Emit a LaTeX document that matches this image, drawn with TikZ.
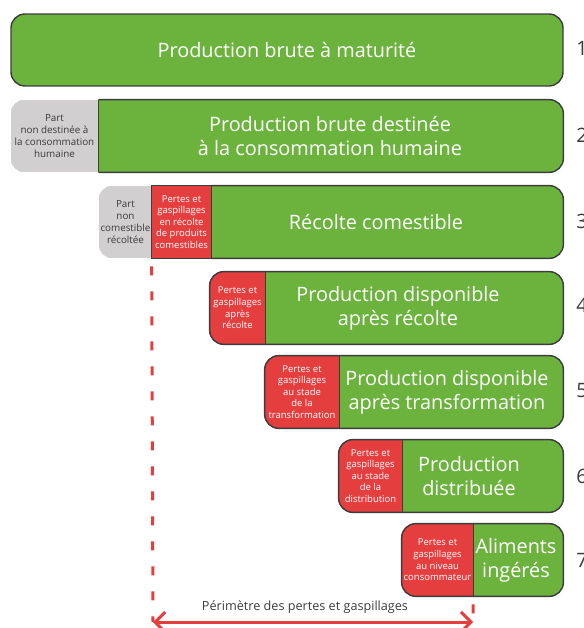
\documentclass[tikz,border=0pt]{standalone}
\usepackage{fontspec}
\setmainfont{Open Sans}
\usetikzlibrary{arrows.meta,backgrounds}
\definecolor{vert}{HTML}{6CB33E}
\definecolor{rouge}{HTML}{E53E3F}
\definecolor{gris}{HTML}{D1CFCF}
\definecolor{trait}{HTML}{3C3C3C}
\tikzset{
	seg/.style={inner sep=0pt, align=center, minimum height=1.44cm},
	grand/.style={seg, text=white, font={\fontsize{11.3}{13.6}\selectfont}},
	petit/.style={seg, text=white, font={\fontsize{5.4}{6.6}\selectfont}},
	partgris/.style={petit, text=trait, font={\fontsize{5.6}{6.8}\selectfont}},
	bord/.style={draw=trait, line width=0.8pt},
	tiret/.style={draw=rouge, line width=0.06cm, dash pattern=on 0.18cm off 0.32cm, dash phase=0.34cm},
	num/.style={anchor=west, inner sep=0pt, text=trait, font={\fontsize{11.3}{12}\selectfont}}
}
\begin{document}
\begin{tikzpicture}[x=0.02cm,y=-0.02cm]
	\useasboundingbox (0,0) rectangle (584,628);
	% 1
	\node[grand, minimum width=552*0.02cm, fill=vert, bord, rounded corners=0.28cm] (brute) at (287,50) {Production brute à maturité};
	% 2
	\node[partgris, minimum width=87*0.02cm] (nondest) at (54.5,136) {Part\\non destinée à\\la consommation\\humaine};
	\node[grand, minimum width=466*0.02cm] (destinee) at (330,136) {Production brute destinée\\à la consommation humaine};
	% 3
	\node[partgris, minimum width=53*0.02cm] (noncomest) at (125.5,222) {Part\\non\\comestible\\récoltée};
	\node[petit, minimum width=59*0.02cm] (perte3) at (181.5,222) {Pertes et\\gaspillages\\en récolte\\de produits\\comestibles};
	\node[grand, minimum width=374*0.02cm] (comest) at (376,222) {Récolte comestible};
	\begin{scope}[on background layer]
		\begin{scope}
			\clip[rounded corners=0.28cm] (nondest.north west) rectangle (destinee.south east);
			\fill[vert] (destinee.north west) rectangle (destinee.south east);
			\fill[gris] (nondest.north west) rectangle (nondest.south east);
		\end{scope}
		\draw[bord, rounded corners=0.28cm] (nondest.north east) -- (destinee.north east) -- (destinee.south east) -- (nondest.south east);
		\draw[bord] (nondest.north east) -- (nondest.south east);
		\begin{scope}
			\clip[rounded corners=0.28cm] (noncomest.north west) rectangle (comest.south east);
			\fill[vert] (comest.north west) rectangle (comest.south east);
			\fill[rouge] (perte3.north west) rectangle (perte3.south east);
			\fill[gris] (noncomest.north west) rectangle (noncomest.south east);
		\end{scope}
		\draw[bord] (perte3.north west) rectangle (perte3.south east);
		\draw[bord, rounded corners=0.28cm] (perte3.north east) -- (comest.north east) -- (comest.south east) -- (perte3.south east);
	\end{scope}
	% 4 a 7
	\foreach \n/\xa/\xb/\yc/\tc/\perte/\dispo in {
		4/210/265/308/398/{Pertes et\\gaspillages\\après\\récolte}/{Production disponible\\après récolte},
		5/265/339/392/447/{Pertes et\\gaspillages\\au stade\\de la\\transformation}/{Production disponible\\après transformation},
		6/339/402/476/469/{Pertes et\\gaspillages\\au stade\\de la\\distribution}/{Production\\distribuée},
		7/402/473/560/516/{Pertes et\\gaspillages\\au niveau\\consommateur}/{Aliments\\ingérés}}
	{
		\node[petit, minimum width={(\xb-\xa)*0.02cm}] (perte\n) at ({(\xa+\xb)/2},\yc) {\perte};
		\node[grand, minimum width={2*(563-\tc)*0.02cm}] (dispo\n) at (\tc,\yc) {\dispo};
		\begin{scope}[on background layer]
			\begin{scope}
				\clip[rounded corners=0.28cm] (perte\n.north west) rectangle (dispo\n.south east);
				\fill[vert] (dispo\n.north west) rectangle (dispo\n.south east);
				\fill[rouge] (perte\n.north west) rectangle (perte\n.south east);
			\end{scope}
			\draw[bord, rounded corners=0.28cm] (perte\n.north west) rectangle (dispo\n.south east);
			\draw[bord] (perte\n.north east) -- (perte\n.south east);
		\end{scope}
	}
	\foreach \n/\yc in {1/48,2/135,3/221,4/305,5/391,6/476,7/560}
		\node[num] (num\n) at (576,\yc) {\n};
	% perimetre
	\coordinate (gauche) at (153,622);
	\coordinate (droite) at (473,622);
	\draw[tiret] (perte3.south west) -- (gauche);
	\draw[tiret] (perte7.south east) -- (droite);
	\draw[rouge, line width=0.06cm, {Straight Barb[length=0.2cm,width=0.4cm]}-{Straight Barb[length=0.2cm,width=0.4cm]}] (gauche) -- (droite);
	\node[text=trait, font={\fontsize{7.2}{8}\selectfont}] (perimetre) at (305,607) {Périmètre des pertes et gaspillages};
\end{tikzpicture}
\end{document}
